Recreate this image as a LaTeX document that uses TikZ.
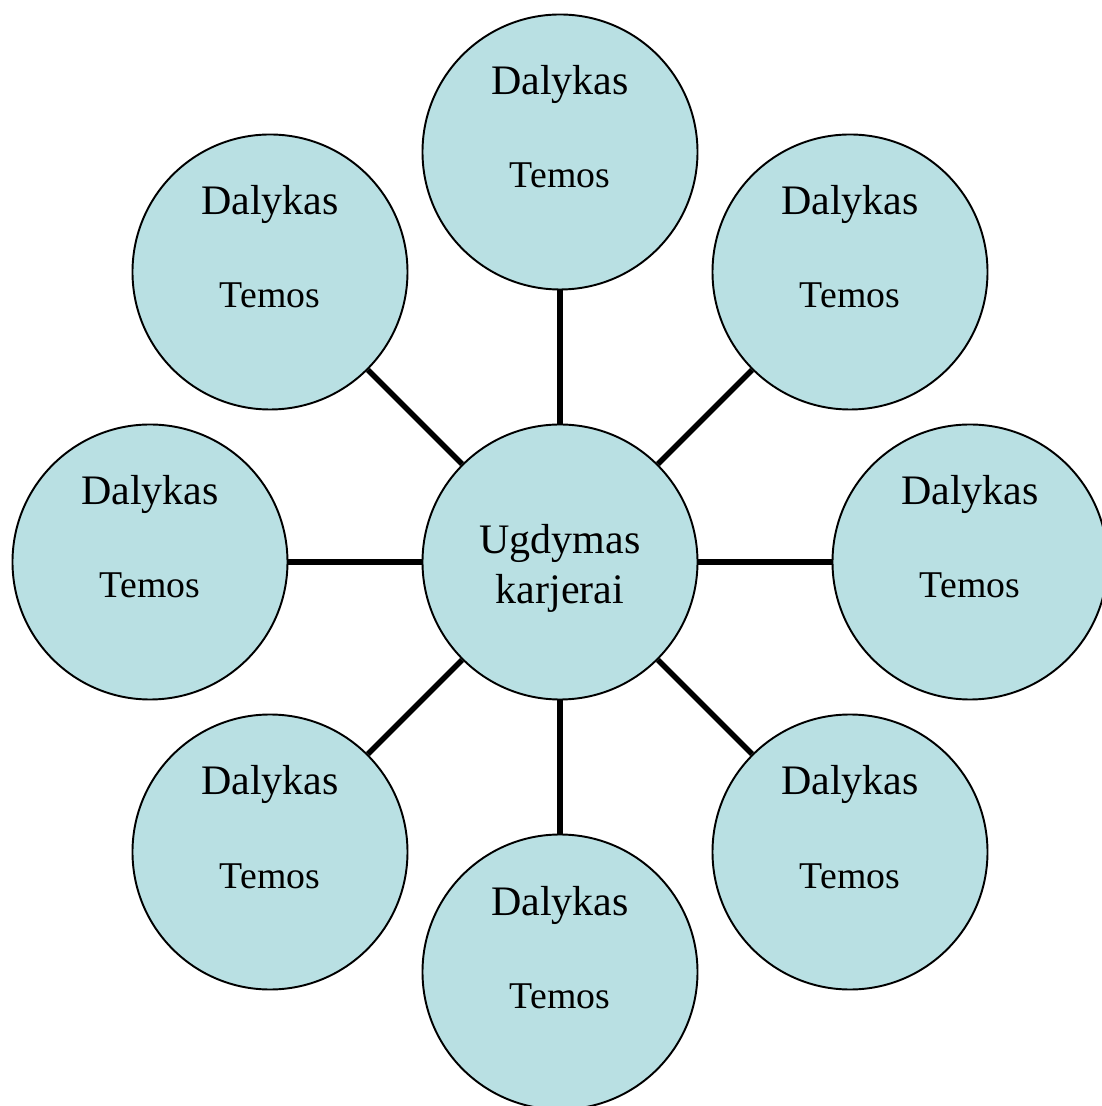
\documentclass[tikz,border=0pt]{standalone}
\usepackage{fontspec}
\setmainfont{Liberation Serif}
\usepackage{xcolor}
\usepackage{tikz}
\usetikzlibrary{positioning}
\definecolor{cirfill}{HTML}{B9E0E3}

\begin{document}
\begin{tikzpicture}[
    topic/.style={circle, draw=black, line width=1.1pt, fill=cirfill, minimum size=5.5cm, inner sep=0pt},
    hubtext/.style={align=center, font=\fontsize{23.9}{28.45}\selectfont},
    subj/.style={anchor=base, font=\fontsize{23.9}{28}\selectfont},
    theme/.style={anchor=base, font=\fontsize{21.5}{25}\selectfont},
    spoke/.style={line width=3.2pt}
]
\useasboundingbox (-11.2,-10.88) rectangle (10.82,11.24);

% Centre
\node[topic] (hub) at (0,0) {};
\node[hubtext] (hubt) at ([yshift=-0.126cm]hub.center) {Ugdymas\\karjerai};

% Subjects round the centre
\node[topic] (sN) at (0,8.2) {};
\node[subj] (sNa) at ([yshift=1.14cm]sN.center) {Dalykas};
\node[theme] (sNb) at ([yshift=-0.72cm]sN.center) {Temos};

\node[topic] (sNE) at (5.8,5.8) {};
\node[subj] (sNEa) at ([yshift=1.14cm]sNE.center) {Dalykas};
\node[theme] (sNEb) at ([yshift=-0.72cm]sNE.center) {Temos};

\node[topic] (sE) at (8.2,0) {};
\node[subj] (sEa) at ([yshift=1.14cm]sE.center) {Dalykas};
\node[theme] (sEb) at ([yshift=-0.72cm]sE.center) {Temos};

\node[topic] (sSE) at (5.8,-5.8) {};
\node[subj] (sSEa) at ([yshift=1.14cm]sSE.center) {Dalykas};
\node[theme] (sSEb) at ([yshift=-0.72cm]sSE.center) {Temos};

\node[topic] (sS) at (0,-8.2) {};
\node[subj] (sSa) at ([yshift=1.14cm]sS.center) {Dalykas};
\node[theme] (sSb) at ([yshift=-0.72cm]sS.center) {Temos};

\node[topic] (sSW) at (-5.8,-5.8) {};
\node[subj] (sSWa) at ([yshift=1.14cm]sSW.center) {Dalykas};
\node[theme] (sSWb) at ([yshift=-0.72cm]sSW.center) {Temos};

\node[topic] (sW) at (-8.2,0) {};
\node[subj] (sWa) at ([yshift=1.14cm]sW.center) {Dalykas};
\node[theme] (sWb) at ([yshift=-0.72cm]sW.center) {Temos};

\node[topic] (sNW) at (-5.8,5.8) {};
\node[subj] (sNWa) at ([yshift=1.14cm]sNW.center) {Dalykas};
\node[theme] (sNWb) at ([yshift=-0.72cm]sNW.center) {Temos};

% Spokes
\draw[spoke] (hub) -- (sN);
\draw[spoke] (hub) -- (sNE);
\draw[spoke] (hub) -- (sE);
\draw[spoke] (hub) -- (sSE);
\draw[spoke] (hub) -- (sS);
\draw[spoke] (hub) -- (sSW);
\draw[spoke] (hub) -- (sW);
\draw[spoke] (hub) -- (sNW);

\end{tikzpicture}
\end{document}
